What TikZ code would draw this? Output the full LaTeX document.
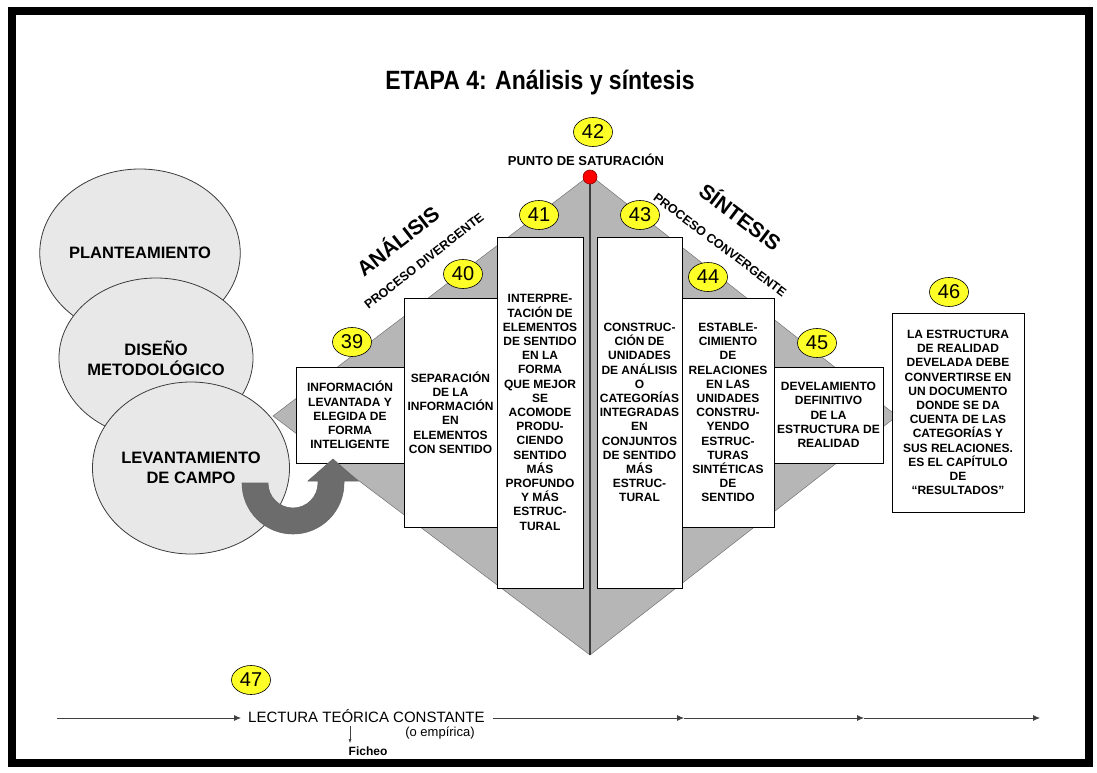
\documentclass[tikz,border=0pt]{standalone}
\usepackage{fontspec}
\setmainfont{Liberation Sans}
\usetikzlibrary{shapes.geometric,arrows.meta,calc}
\definecolor{badgey}{RGB}{255,255,40}
\definecolor{dgray}{RGB}{182,182,182}
\definecolor{cgray}{RGB}{232,232,232}
\definecolor{agray}{RGB}{108,108,108}
\definecolor{lgray}{RGB}{60,60,60}
\tikzset{
  box/.style={draw=black, line width=0.8pt, fill=white, align=center, inner sep=0pt,
    font=\bfseries\fontsize{12}{14.2}\selectfont},
  badge/.style={ellipse, draw=black, line width=0.6pt, fill=badgey, minimum width=39pt,
    minimum height=29pt, inner sep=0pt, font=\fontsize{20}{20}\selectfont},
  bubble/.style={ellipse, draw=lgray, line width=0.8pt, fill=cgray, align=center, inner sep=0pt,
    font=\bfseries\fontsize{16.5}{19.5}\selectfont},
  conn/.style={draw=black!75, line width=0.8pt, -{Latex[length=7pt,width=6pt]}},
  side/.style={font=\bfseries\fontsize{21}{21}\selectfont, inner sep=0pt},
  sub/.style={font=\bfseries\fontsize{12.5}{12.5}\selectfont, inner sep=0pt}
}
\begin{document}
\begin{tikzpicture}[x=1pt,y=-1pt]
\useasboundingbox (0,0) rectangle (1097,773);
% frame
\draw[line width=8pt] (12,11) rectangle (1089,763);
% title
\node[font=\bfseries\fontsize{23}{23}\selectfont] (title) at (540,83) {\scalebox{1}[1.15]{ETAPA 4: Análisis y síntesis}};
% diamond
\coordinate (dT) at (590,175);
\coordinate (dR) at (897,416);
\coordinate (dB) at (590,655);
\coordinate (dL) at (273,416);
\filldraw[fill=dgray, draw=black!55, line width=0.5pt] (dT) -- (dR) -- (dB) -- (dL) -- cycle;
\draw[lgray, line width=1.3pt] (dT) -- (dB);
% boxes
\node[box, minimum width=108pt, minimum height=96pt] (b39) at (350,415)
  {INFORMACIÓN\\LEVANTADA Y\\ELEGIDA DE\\FORMA\\INTELIGENTE};
\node[box, minimum width=93pt, minimum height=229pt] (b40) at (450.5,412.5)
  {SEPARACIÓN\\DE LA\\INFORMACIÓN\\EN\\ELEMENTOS\\CON SENTIDO};
\node[box, minimum width=86pt, minimum height=351pt] (b41) at (540,412.5)
  {INTERPRE-\\TACIÓN DE\\ELEMENTOS\\DE SENTIDO\\EN LA\\FORMA\\QUE MEJOR\\SE\\ACOMODE\\PRODU-\\CIENDO\\SENTIDO\\MÁS\\PROFUNDO\\Y MÁS\\ESTRUC-\\TURAL};
\node[box, minimum width=85pt, minimum height=351pt] (b43) at (639.5,412.5)
  {CONSTRUC-\\CIÓN DE\\UNIDADES\\DE ANÁLISIS\\O\\CATEGORÍAS\\INTEGRADAS\\EN\\CONJUNTOS\\DE SENTIDO\\MÁS\\ESTRUC-\\TURAL};
\node[box, minimum width=92pt, minimum height=229pt] (b44) at (728,412.5)
  {ESTABLE-\\CIMIENTO\\DE\\RELACIONES\\EN LAS\\UNIDADES\\CONSTRU-\\YENDO\\ESTRUC-\\TURAS\\SINTÉTICAS\\DE\\SENTIDO};
\node[box, minimum width=109pt, minimum height=96pt] (b45) at (828.5,415)
  {DEVELAMIENTO\\DEFINITIVO\\DE LA\\ESTRUCTURA DE\\REALIDAD};
\node[box, minimum width=132pt, minimum height=199pt] (b46) at (958,412.5)
  {LA ESTRUCTURA\\DE REALIDAD\\DEVELADA DEBE\\CONVERTIRSE EN\\UN DOCUMENTO\\DONDE SE DA\\CUENTA DE LAS\\CATEGORÍAS Y\\SUS RELACIONES.\\ES EL CAPÍTULO\\DE\\“RESULTADOS”};
% saturation point
\node[circle, fill=red, draw=red!55!black, line width=0.6pt, minimum size=14pt, inner sep=0pt] (sat) at (590,177) {};
\node[font=\bfseries\fontsize{13}{13}\selectfont] (punto) at (586,160) {PUNTO DE SATURACIÓN};
% side labels
\node[side, rotate=38] (anl) at (397,240) {ANÁLISIS};
\node[sub, rotate=38] (pdiv) at (424,261) {PROCESO DIVERGENTE};
\node[side, rotate=-37] (sin) at (741,216) {SÍNTESIS};
\node[sub, rotate=-37] (pconv) at (720,245) {PROCESO CONVERGENTE};
% badges
\node[badge] (n39) at (352,342) {39};
\node[badge] (n40) at (463,274) {40};
\node[badge] (n41) at (539,215) {41};
\node[badge] (n42) at (593,132) {42};
\node[badge] (n43) at (640,215) {43};
\node[badge] (n44) at (708,277) {44};
\node[badge] (n45) at (817,343) {45};
\node[badge] (n46) at (949,292) {46};
\node[badge] (n47) at (251,680) {47};
% bubbles
\node[bubble, minimum width=154pt, minimum height=168pt] (c1) at (140,253) {PLANTEAMIENTO};
\node[bubble, minimum width=154pt, minimum height=160pt] (c2) at (156,358) {DISEÑO\\METODOLÓGICO};
\node[bubble, minimum width=162pt, minimum height=172pt] (c3) at (191,468) {LEVANTAMIENTO\\DE CAMPO};
% curved arrow
\filldraw[fill=agray, draw=black!60, line width=0.6pt]
  (242,483) arc[start angle=180, end angle=0, radius=51]
  -- (344,481) -- (358,481) -- (333,459) -- (308,481) -- (318,481) -- (318,483)
  arc[start angle=0, end angle=180, radius=25] -- cycle;
% bottom line
\coordinate (l0) at (57,718);
\coordinate (l1) at (241,718);
\node[anchor=west, inner sep=0pt, font=\fontsize{15}{15}\selectfont] (lect) at (248,716) {LECTURA TEÓRICA CONSTANTE};
\coordinate (l2) at ($(lect.east |- l1)+(8,0)$);
\coordinate (l3) at (684,718);
\coordinate (l4) at (864,718);
\coordinate (l5) at (1040,718);
\draw[conn] (l0) -- (l1);
\draw[conn] (l2) -- (l3);
\draw[conn] (l3) -- (l4);
\draw[conn] (l4) -- (l5);
\node[font=\fontsize{13}{13}\selectfont] (emp) at (440,733) {(o empírica)};
\node[font=\bfseries\fontsize{12}{12}\selectfont] (fich) at (368,751) {Ficheo};
\coordinate (f0) at (350,726);
\draw[draw=black!75, line width=0.6pt, -{Latex[length=4pt,width=3pt]}] (f0) -- (fich.north west -| f0);
\end{tikzpicture}
\end{document}
